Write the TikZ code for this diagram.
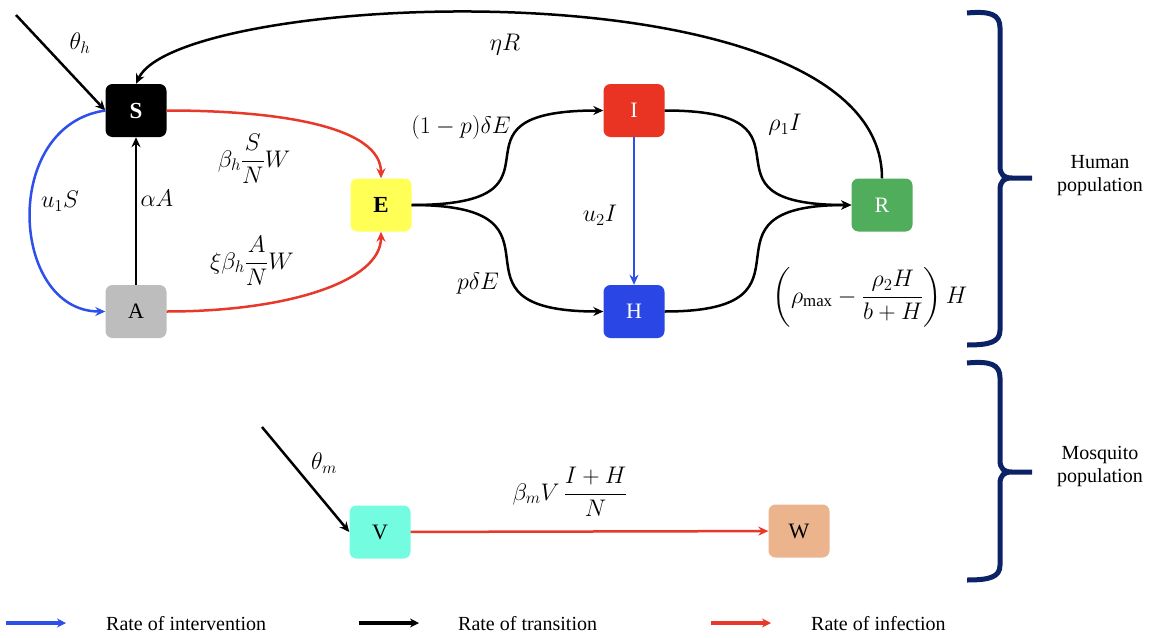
\documentclass[tikz,border=0pt]{standalone}
\usepackage{fix-cm}
\usepackage{amsmath}
\usepackage{fontspec}
\setmainfont{Liberation Serif}
\usetikzlibrary{arrows.meta}
\definecolor{ured}{HTML}{E8382A}
\definecolor{ublue}{HTML}{2D4FEA}
\definecolor{navy}{HTML}{0C2266}
\definecolor{cA}{HTML}{BDBDBD}
\definecolor{cE}{HTML}{FFFF55}
\definecolor{cI}{HTML}{E93323}
\definecolor{cH}{HTML}{2A47E5}
\definecolor{cR}{HTML}{4FAD5B}
\definecolor{cV}{HTML}{73FCE0}
\definecolor{cW}{HTML}{EBB48C}
\tikzset{
  box/.style={rectangle, rounded corners=7pt, minimum width=61pt, minimum height=53pt, inner sep=0pt, font=\fontsize{22}{26}\selectfont},
  lbl/.style={font=\fontsize{24}{28}\selectfont, inner sep=0pt},
  conn/.style={line width=2.5pt, -{Stealth[length=10pt,width=9pt]}},
  trans/.style={conn, draw=black},
  interv/.style={conn, draw=ublue},
  infect/.style={conn, draw=ured},
  brace/.style={draw=navy, line width=5pt},
  legarrow/.style={line width=3.5pt, -{Stealth[length=9pt,width=9pt]}},
  legtext/.style={font=\fontsize{20}{24}\selectfont, anchor=west, inner sep=0pt},
  poptext/.style={font=\fontsize{20}{23}\selectfont, align=center, inner sep=0pt}
}
\begin{document}
\begin{tikzpicture}[x=1pt,y=-1pt]
\useasboundingbox (0,0) rectangle (1150,637);
\fill[white] (0,0) rectangle (1150,637);
% nodes
\node[box, fill=black, text=white, font=\fontsize{23}{26}\selectfont\bfseries] (S) at (136,110.5) {S};
\node[box, fill=cA] (A) at (136,311.5) {A};
\node[box, fill=cE, font=\fontsize{23}{26}\selectfont\bfseries] (E) at (381,205) {E};
\node[box, fill=cI, text=white] (I) at (634,110.5) {I};
\node[box, fill=cH, text=white] (H) at (634,311.5) {H};
\node[box, fill=cR, text=white] (R) at (882,205) {R};
\node[box, fill=cV] (V) at (380,532) {V};
\node[box, fill=cW] (W) at (799,531) {W};
\coordinate (th) at (16,15);
\coordinate (tm) at (262,427);
% connectors
\draw[trans] (th) -- (S.west);
\draw[trans] (A) -- (S);
\draw[interv] (S.west) .. controls +(-105,15) and +(-95,0) .. (A.west);
\draw[infect] (S.east) .. controls +(120,0) and +(0,-50) .. (E.north);
\draw[infect] (A.east) .. controls +(120,0) and +(0,50) .. (E.south);
\draw[trans] (E.east) .. controls +(175,0) and +(-175,0) .. (I.west);
\draw[trans] (E.east) .. controls +(175,0) and +(-175,0) .. (H.west);
\draw[interv] (I) -- (H);
\draw[trans] (I.east) .. controls +(170,0) and +(-170,0) .. (R.west);
\draw[trans] (H.east) .. controls +(170,0) and +(-170,0) .. (R.west);
\draw[trans] (R.north) .. controls +(0,-219) and +(44,-94) .. (S.north);
\draw[trans] (tm) -- (V.west);
\draw[infect] (V) -- (W);
% labels
\node[lbl] (l1) at (80,43) {$\theta_h$};
\node[lbl] (l2) at (505,45) {$\eta R$};
\node[lbl] (l3) at (254,159) {$\displaystyle \beta_h\frac{S}{N}W$};
\node[lbl] (l4) at (252,261) {$\displaystyle \xi\beta_h\frac{A}{N}W$};
\node[lbl] (l5) at (60,201) {$u_1S$};
\node[lbl] (l6) at (157,198) {$\alpha A$};
\node[lbl] (l7) at (461,127) {$(1-p)\delta E$};
\node[lbl] (l8) at (478,283) {$p\delta E$};
\node[lbl] (l9) at (600,215) {$u_2I$};
\node[lbl] (l10) at (785,125) {$\rho_1 I$};
\node[lbl] (l11) at (870,297) {$\displaystyle \left(\rho_{\max}-\frac{\rho_2 H}{b+H}\right)H$};
\node[lbl] (l12) at (324,463) {$\theta_m$};
\node[lbl] (l13) at (570,492) {$\displaystyle \beta_m V\,\frac{I+H}{N}$};
% braces
\draw[brace] (967,13) .. controls (990,11) and (1000,14) .. (1000,28) -- (1000,166) .. controls (1000,175) and (1004,178) .. (1012,178) -- (1032,178)
  (1012,178) .. controls (1004,178) and (1000,181) .. (1000,190) -- (1000,330) .. controls (1000,342) and (990,345) .. (967,345);
\draw[brace] (967,363) .. controls (990,361) and (1000,364) .. (1000,378) -- (1000,460) .. controls (1000,469) and (1004,472) .. (1012,472) -- (1032,472)
  (1012,472) .. controls (1004,472) and (1000,475) .. (1000,484) -- (1000,565) .. controls (1000,577) and (990,580) .. (967,580);
\node[poptext] (hp) at (1100,176) {Human\\population};
\node[poptext] (mp) at (1100,466) {Mosquito\\population};
% legend
\coordinate (b1) at (6,623); \coordinate (b2) at (66,623);
\coordinate (k1) at (359,623); \coordinate (k2) at (419,623);
\coordinate (r1) at (711,623); \coordinate (r2) at (771,623);
\draw[legarrow, draw=ublue] (b1) -- (b2);
\draw[legarrow, draw=black] (k1) -- (k2);
\draw[legarrow, draw=ured] (r1) -- (r2);
\node[legtext] (t1) at (106,624) {Rate of intervention};
\node[legtext] (t2) at (458,624) {Rate of transition};
\node[legtext] (t3) at (811,624) {Rate of infection};
\end{tikzpicture}
\end{document}
